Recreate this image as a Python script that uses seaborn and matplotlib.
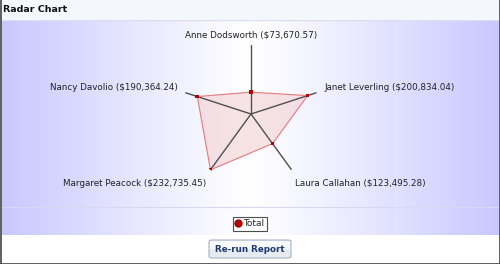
import numpy as np
import pandas as pd
import matplotlib
matplotlib.use("Agg")
import matplotlib.pyplot as plt
import seaborn as sns
from matplotlib.patches import Rectangle, FancyBboxPatch
from matplotlib.lines import Line2D

sns.set_style("white")
plt.rcParams['font.family'] = ['DejaVu Sans']

# ---- data ----
employees = ["Anne Dodsworth", "Janet Leverling", "Laura Callahan",
             "Margaret Peacock", "Nancy Davolio"]
totals = [73670.57, 200834.04, 123495.28, 232735.45, 190364.24]
series_name = "Total"
title = "Radar Chart"
button_text = "Re-run Report"

W, H = 500, 264
fig = plt.figure(figsize=(W / 100, H / 100), dpi=100)
fig.patch.set_facecolor("white")

def fx(px):
    return px / W

def fy(py):
    return 1 - py / H

# title bar
fig.patches.append(Rectangle((0, fy(20)), 1, 20 / H, transform=fig.transFigure,
                             facecolor="#f4f7fc", edgecolor="none", zorder=0))
fig.text(fx(3), fy(10), title, fontsize=6.8, fontweight="bold",
         color="#111111", va="center", ha="left")

# gradient panel
bg = fig.add_axes([fx(2), fy(235), fx(497), 215 / H], zorder=0)
xs = np.linspace(-1, 1, 400)
t = np.abs(xs) ** 1.1
c0 = np.array([1.0, 1.0, 1.0])
c1 = np.array([200, 200, 255]) / 255
grad = (1 - t)[:, None] * c0 + t[:, None] * c1
bg.imshow(grad[None, :, :], aspect="auto", extent=[0, 1, 0, 1])
bg.axhline(1 - 187 / 215, color="#d8d8f0", lw=0.8)
bg.axhline(1.0, color="#dcdcf2", lw=1.0)
bg.set_xlim(0, 1)
bg.set_ylim(0, 1)
bg.axis("off")

# radar
cx, cy, R = 251, 114, 69
ax = fig.add_axes([fx(cx - R), fy(cy + R), 2 * R / W, 2 * R / H],
                  projection="polar", zorder=2)
ax.set_facecolor("none")
ax.set_theta_offset(np.pi / 2)
ax.set_theta_direction(-1)
rmax = max(totals)
ax.set_ylim(0, rmax)
n = len(employees)
angles = np.arange(n) * 2 * np.pi / n

for a in angles:
    ax.plot([a, a], [0, rmax], color="#505050", lw=1.0, zorder=3)

df = pd.DataFrame({"theta": list(angles) + [angles[0]],
                   "r": totals + [totals[0]]})
ax.fill(df["theta"], df["r"], color="#eebcbc", alpha=0.4, zorder=2, lw=0)
sns.lineplot(data=df, x="theta", y="r", sort=False, estimator=None,
             color="#e47a7a", lw=0.8, ax=ax, zorder=4)
pts = pd.DataFrame({"theta": angles, "r": totals, "series": series_name})
sns.scatterplot(data=pts, x="theta", y="r", marker="s", s=7, color="#b00000",
                edgecolor="none", ax=ax, zorder=5, legend=False)
ax.grid(False)
ax.set_xticks([])
ax.set_yticks([])
ax.spines["polar"].set_visible(False)
ax.set_xlabel("")
ax.set_ylabel("")

# axis labels
labels = [f"{e} (${v:,.2f})" for e, v in zip(employees, totals)]
lab_pos = [(251, 35, "center"), (324, 88, "left"), (295, 183, "left"),
           (206, 183, "right"), (178, 88, "right")]
for lab, (px, py, ha) in zip(labels, lab_pos):
    fig.text(fx(px), fy(py), lab, fontsize=6.3, color="#222222",
             ha=ha, va="center")

# legend
handle = Line2D([], [], marker="o", color="none", markerfacecolor="#b00000",
                markeredgecolor="#b00000", markersize=5)
leg = fig.legend([handle], [series_name], loc="center",
                 bbox_to_anchor=(fx(250), fy(224)), frameon=True,
                 fancybox=False, fontsize=6.5, handlelength=0.6,
                 handletextpad=0.3, borderpad=0.25, borderaxespad=0)
leg.get_frame().set_edgecolor("#222222")
leg.get_frame().set_linewidth(0.8)

# button
btn = FancyBboxPatch((fx(209), fy(258)), 82 / W, 18 / H,
                     boxstyle="round,pad=0,rounding_size=0.006",
                     transform=fig.transFigure, facecolor="#e6eaf1",
                     edgecolor="#a8b4c8", lw=0.8, zorder=3)
fig.patches.append(btn)
fig.patches.append(Rectangle((fx(210), fy(249)), 80 / W, 8 / H,
                             transform=fig.transFigure, facecolor="#f8f9fc",
                             edgecolor="none", zorder=3))
fig.text(fx(250), fy(249), button_text, fontsize=6.3, fontweight="bold",
         color="#1f3a70", ha="center", va="center", zorder=4)
fig.lines.append(Line2D([fx(215), fx(221)], [fy(255), fy(255)],
                        transform=fig.transFigure, color="#1f3a70", lw=0.7))

# outer frame lines
for xy in ([[fx(0.5), fx(0.5)], [0, 1]], [[fx(499.5), fx(499.5)], [0, 1]],
           [[0, 1], [fy(263.5), fy(263.5)]]):
    fig.lines.append(Line2D(xy[0], xy[1], transform=fig.transFigure,
                            color="#444444", lw=1.2))

fig.savefig("out.png", dpi=100, facecolor=fig.get_facecolor())
